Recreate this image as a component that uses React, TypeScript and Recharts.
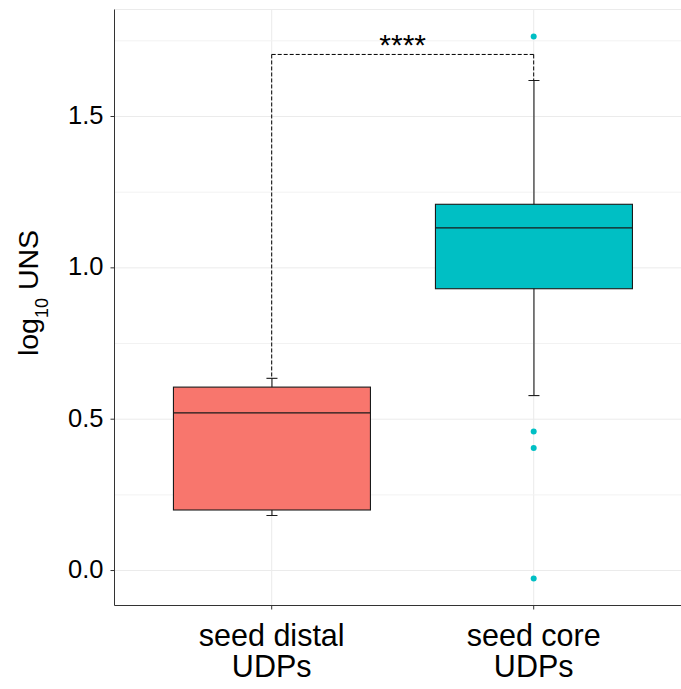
import React from 'react';
import {
  ComposedChart,
  Bar,
  XAxis,
  YAxis,
  CartesianGrid,
  ReferenceLine,
  ReferenceDot,
} from 'recharts';

// ---------- data ----------
const categories = ['seed distal UDPs', 'seed core UDPs'];
const tickLabelLines = [
  ['seed distal', 'UDPs'],
  ['seed core', 'UDPs'],
];
const lowerWhisker = [0.182, 0.578];
const q1Values = [0.2, 0.931];
const medianValues = [0.521, 1.132];
const q3Values = [0.606, 1.21];
const upperWhisker = [0.635, 1.619];
const boxFills = ['#F8766D', '#00BFC4'];

const outlierCategories = ['seed core UDPs', 'seed core UDPs', 'seed core UDPs', 'seed core UDPs'];
const outlierValues = [1.764, 0.459, 0.405, -0.026];

const yTicks = [0, 0.5, 1.0, 1.5];
const yMinorTicks = [0.25, 0.75, 1.25, 1.75];
const yDomain = [-0.1155, 1.8535];

const bracketY = 1.705;
const signifLabel = '****';

const boxData = categories.map((cat, i) => ({
  cat,
  lower: lowerWhisker[i],
  q1: q1Values[i],
  median: medianValues[i],
  q3: q3Values[i],
  upper: upperWhisker[i],
  fill: boxFills[i],
}));

const FONT = '"Liberation Sans", Arial, Helvetica, sans-serif';
const LINE = '#1a1a1a';

// ---------- shapes ----------
const BoxShape = (props: any) => {
  const { x, y, width, height, payload } = props;
  if (!payload) return null;
  const top = Math.min(y, y + height);
  const bottom = Math.max(y, y + height);
  const { lower, upper, q1, q3, median, fill } = payload;
  const px = (v: number) => top + ((bottom - top) * (upper - v)) / (upper - lower);
  const cx = x + width / 2;
  const capHalf = width * 0.028;
  return (
    <g>
      <line x1={cx} x2={cx} y1={px(upper)} y2={px(lower)} stroke={LINE} strokeWidth={1.1} />
      <line x1={cx - capHalf} x2={cx + capHalf} y1={px(upper)} y2={px(upper)} stroke={LINE} strokeWidth={1.1} />
      <line x1={cx - capHalf} x2={cx + capHalf} y1={px(lower)} y2={px(lower)} stroke={LINE} strokeWidth={1.1} />
      <rect x={x} y={px(q3)} width={width} height={px(q1) - px(q3)} fill={fill} stroke={LINE} strokeWidth={1.1} />
      <line x1={x} x2={x + width} y1={px(median)} y2={px(median)} stroke={LINE} strokeWidth={1.1} />
    </g>
  );
};

const XTick = (props: any) => {
  const { x, y, payload } = props;
  const idx = categories.indexOf(payload.value);
  const lines = tickLabelLines[idx] || [String(payload.value)];
  return (
    <g transform={`translate(${x},${y})`}>
      {lines.map((l, i) => (
        <text key={i} x={0} y={34 + i * 31.7} textAnchor="middle" fontSize={30.5} fontFamily={FONT} fill="#000">
          {l}
        </text>
      ))}
    </g>
  );
};

const YTick = (props: any) => {
  const { x, y, payload } = props;
  return (
    <text x={x - 7} y={y + 7.5} textAnchor="end" fontSize={25.5} fontFamily={FONT} fill="#000">
      {Number(payload.value).toFixed(1)}
    </text>
  );
};

const YLabel = (props: any) => {
  const vb = props.viewBox || {};
  const cy = vb.y + vb.height / 2 - 14.5;
  const bx = 38.3;
  return (
    <text
      x={bx}
      y={cy}
      transform={`rotate(-90, ${bx}, ${cy})`}
      textAnchor="middle"
      fontSize={28.5}
      fontFamily={FONT}
      fill="#000"
    >
      <tspan>log</tspan>
      <tspan dy={9.5} fontSize={18}>10</tspan>
      <tspan dy={-9.5}> UNS</tspan>
    </text>
  );
};

const StarsLabel = (props: any) => {
  const vb = props.viewBox || {};
  const cx = vb.x + vb.width / 2;
  return (
    <text x={cx} y={vb.y + 1} textAnchor="middle" fontSize={30} fontFamily={FONT} fill="#000">
      {signifLabel}
    </text>
  );
};

export default function App() {
  return (
    <div style={{ position: 'absolute', left: 0, top: 0, width: 681, height: 689, overflow: 'hidden', background: '#fff' }}>
      <ComposedChart
        width={700}
        height={689}
        data={boxData}
        margin={{ top: 9.5, right: 9.1, bottom: 0, left: 0 }}
        barCategoryGap="12.5%"
      >
        <CartesianGrid horizontal={false} stroke="#ebebeb" strokeWidth={1} />
        <CartesianGrid vertical={false} stroke="#ebebeb" strokeWidth={1} />
        <CartesianGrid vertical={false} horizontalValues={yMinorTicks} stroke="#f2f2f2" strokeWidth={1} />
        <XAxis
          dataKey="cat"
          type="category"
          allowDuplicatedCategory={false}
          padding={{ left: 26.2, right: 26.2 }}
          height={83.5}
          tickSize={4}
          tickMargin={2}
          interval={0}
          axisLine={{ stroke: '#333333', strokeWidth: 1 }}
          tickLine={{ stroke: '#333333', strokeWidth: 1 }}
          tick={<XTick />}
        />
        <XAxis
          xAxisId="top"
          orientation="top"
          dataKey="cat"
          type="category"
          allowDuplicatedCategory={false}
          padding={{ left: 26.2, right: 26.2 }}
          height={0}
          tick={false}
          tickLine={false}
          axisLine={{ stroke: '#333333', strokeWidth: 1 }}
        />
        <YAxis
          type="number"
          domain={yDomain}
          ticks={yTicks}
          allowDataOverflow
          width={114.5}
          tickSize={4}
          tickMargin={0}
          axisLine={{ stroke: '#333333', strokeWidth: 1 }}
          tickLine={{ stroke: '#333333', strokeWidth: 1 }}
          tick={<YTick />}
          label={<YLabel />}
        />
        <Bar
          dataKey={(d: any) => [d.lower, d.upper]}
          shape={<BoxShape />}
          isAnimationActive={false}
        />
        <ReferenceLine
          segment={[
            { x: categories[0], y: bracketY },
            { x: categories[1], y: bracketY },
          ]}
          stroke="#000"
          strokeWidth={1}
          strokeDasharray="4 2"
          label={<StarsLabel />}
        />
        <ReferenceLine
          segment={[
            { x: categories[0], y: bracketY },
            { x: categories[0], y: upperWhisker[0] },
          ]}
          stroke="#000"
          strokeWidth={1}
          strokeDasharray="4 2"
        />
        <ReferenceLine
          segment={[
            { x: categories[1], y: bracketY },
            { x: categories[1], y: upperWhisker[1] },
          ]}
          stroke="#000"
          strokeWidth={1}
          strokeDasharray="4 2"
        />
        {outlierValues.map((v, i) => (
          <ReferenceDot
            key={i}
            x={outlierCategories[i]}
            y={v}
            r={3}
            fill="#00BFC4"
            stroke="none"
          />
        ))}
      </ComposedChart>
    </div>
  );
}
